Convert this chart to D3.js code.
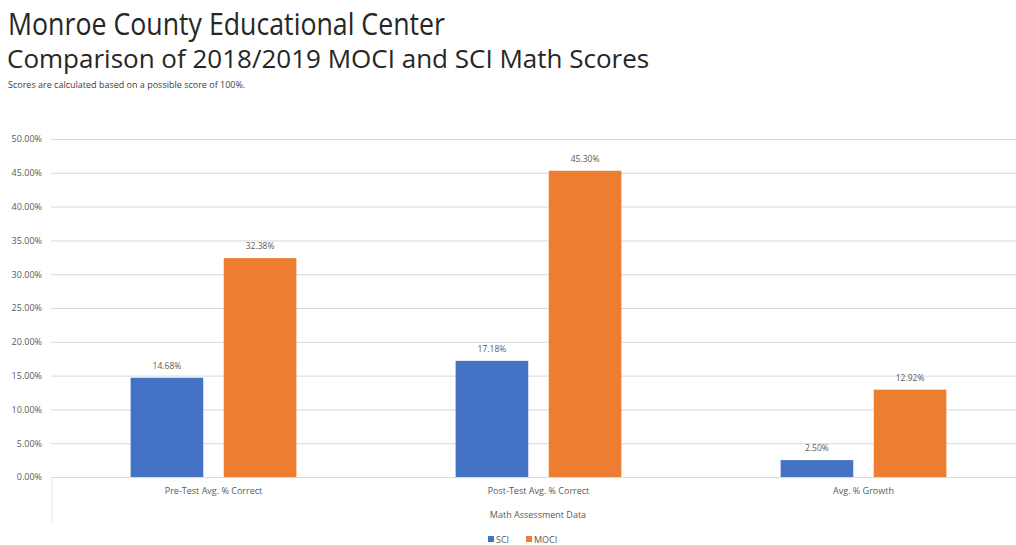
<!DOCTYPE html>
<html>
<head>
<meta charset="utf-8">
<script src="https://cdn.jsdelivr.net/npm/d3@7/dist/d3.min.js"></script>
<style>
  body { margin: 0; background: #fff; }
  svg { display: block; font-family: "Open Sans", "Noto Sans", sans-serif; }
</style>
</head>
<body>
<div id="chart"></div>
<script>
// chart data
const categories = ['Pre-Test Avg. % Correct', 'Post-Test Avg. % Correct', 'Avg. % Growth'];
const seriesNames = ['SCI', 'MOCI'];
const sciValues = [14.68, 17.18, 2.50];
const mociValues = [32.38, 45.30, 12.92];
const yTicks = [0, 5, 10, 15, 20, 25, 30, 35, 40, 45, 50];

const colors = {SCI: '#4472C4', MOCI: '#ED7D31'};

const width = 1016;
const height = 545;
const margin = {top: 139, right: -10, bottom: 68, left: 51};
const graphWidth = width - margin.left - margin.right;
const graphHeight = height - margin.top - margin.bottom;

const svg = d3.select('#chart').append('svg')
    .attr('width', width)
    .attr('height', height);

// titles
svg.append('text')
    .attr('x', 8).attr('y', 35)
    .attr('font-size', 31)
    .attr('textLength', 437)
    .attr('lengthAdjust', 'spacingAndGlyphs')
    .attr('fill', '#262626')
    .text('Monroe County Educational Center');

svg.append('text')
    .attr('x', 7).attr('y', 68)
    .attr('font-size', 26)
    .attr('fill', '#262626')
    .text('Comparison of 2018/2019 MOCI and SCI Math Scores');

svg.append('text')
    .attr('x', 8).attr('y', 88)
    .attr('font-size', 9)
    .attr('fill', '#404040')
    .text('Scores are calculated based on a possible score of 100%.');

const g = svg.append('g')
    .attr('transform', `translate(${margin.left}, ${margin.top})`);

const xFun = d3.scaleBand()
    .domain(categories)
    .range([0, graphWidth]);

const xInner = d3.scaleBand()
    .domain(seriesNames)
    .range([0, xFun.bandwidth() * 0.51])
    .paddingInner(0.22);

const yFun = d3.scaleLinear()
    .domain([0, 50])
    .range([graphHeight, 0]);

// gridlines + y axis
const yAxis = d3.axisLeft(yFun)
    .tickValues(yTicks)
    .tickSize(-graphWidth)
    .tickPadding(9)
    .tickFormat(d => d.toFixed(2) + '%');

const yAxisG = g.append('g').call(yAxis);
yAxisG.select('.domain').remove();
yAxisG.selectAll('.tick line').attr('stroke', '#d9d9d9');
yAxisG.selectAll('.tick text')
    .attr('fill', '#595959')
    .attr('font-size', 9)
    .attr('font-family', '"Open Sans", sans-serif');

// faint vertical line below axis
g.append('line')
    .attr('x1', 1).attr('x2', 1)
    .attr('y1', graphHeight).attr('y2', graphHeight + 45)
    .attr('stroke', '#e6e6e6');

// bars
const rows = categories.map((c, i) => ({cat: c, values: [
    {name: 'SCI', v: sciValues[i]},
    {name: 'MOCI', v: mociValues[i]},
]}));

const offset = xFun.bandwidth() * (1 - 0.51) / 2;

const groups = g.selectAll('.grp').data(rows).enter().append('g')
    .attr('transform', d => `translate(${xFun(d.cat) + offset}, 0)`);

groups.selectAll('rect').data(d => d.values).enter().append('rect')
    .attr('x', d => xInner(d.name))
    .attr('y', d => yFun(d.v))
    .attr('width', xInner.bandwidth())
    .attr('height', d => yFun(0) - yFun(d.v))
    .attr('fill', d => colors[d.name]);

groups.selectAll('.lbl').data(d => d.values).enter().append('text')
    .attr('x', d => xInner(d.name) + xInner.bandwidth() / 2)
    .attr('y', d => yFun(d.v) - 9)
    .attr('text-anchor', 'middle')
    .attr('font-size', 8.5)
    .attr('fill', '#595959')
    .text(d => d.v.toFixed(2) + '%');

// x axis labels
const xAxis = d3.axisBottom(xFun).tickSize(0).tickPadding(11);
const xAxisG = g.append('g')
    .attr('transform', `translate(0, ${graphHeight})`)
    .call(xAxis);
xAxisG.select('.domain').attr('stroke', '#d9d9d9');
xAxisG.selectAll('.tick text')
    .attr('fill', '#595959')
    .attr('font-size', 9)
    .attr('font-family', '"Open Sans", sans-serif');

// axis title
svg.append('text')
    .attr('x', 538).attr('y', 518)
    .attr('text-anchor', 'middle')
    .attr('font-size', 9)
    .attr('fill', '#595959')
    .text('Math Assessment Data');

// legend
const legend = svg.append('g').attr('transform', 'translate(488, 535)');
const legendItems = legend.selectAll('g').data(seriesNames).enter().append('g')
    .attr('transform', (d, i) => `translate(${i * 38}, 0)`);
legendItems.append('rect')
    .attr('width', 6).attr('height', 6).attr('y', 1)
    .attr('fill', d => colors[d]);
legendItems.append('text')
    .attr('x', 8).attr('y', 7.5)
    .attr('font-size', 9)
    .attr('fill', '#595959')
    .text(d => d);
</script>
</body>
</html>
